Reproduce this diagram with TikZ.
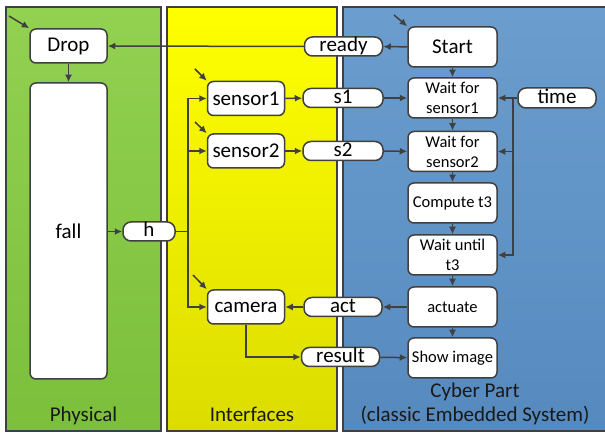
\documentclass[tikz,border=0pt]{standalone}
\usepackage{fontspec}
\setmainfont{Carlito}
\usetikzlibrary{arrows.meta, positioning, calc}
\definecolor{linegray}{HTML}{404040}
\definecolor{physgreen}{HTML}{93D151}
\definecolor{physgreendark}{HTML}{7BBF3B}
\definecolor{ifyellow}{HTML}{FFFF00}
\definecolor{ifyellowdark}{HTML}{DCDC00}
\definecolor{cyberblue}{HTML}{6B9DCE}
\definecolor{cyberbluedark}{HTML}{568ABF}

\begin{document}
\begin{tikzpicture}[x=1pt, y=-1pt,
    panel/.style={draw=linegray, line width=2pt},
    paneltitle/.style={anchor=base, text=black!90, font=\fontsize{21}{23}\selectfont},
    block/.style={draw=linegray, fill=white, line width=1.5pt, rounded corners=6pt,
      minimum width=77pt, minimum height=34pt, inner sep=1pt,
      font=\fontsize{21}{23}\selectfont},
    cyberbox/.style={block, minimum width=89pt, minimum height=40pt, align=center,
      font=\fontsize{16.5}{20}\selectfont},
    datafield/.style={draw=linegray, fill=white, line width=1.5pt, rounded corners=8pt,
      minimum width=78pt, minimum height=19pt, inner xsep=2pt, inner ysep=0pt,
      text height=14pt, text depth=3pt, font=\fontsize{21}{23}\selectfont},
    flow/.style={draw=linegray, line width=1.5pt, -{Latex[length=7.5pt,width=7pt]}},
    wire/.style={draw=linegray, line width=1.5pt}]
  \useasboundingbox (0,0) rectangle (605,435);

  % Hintergrund: drei Bereiche
  \draw[panel, top color=physgreen, bottom color=physgreendark] (6,7) rectangle (161,431);
  \draw[panel, top color=ifyellow, bottom color=ifyellowdark] (167,7) rectangle (337,431);
  \draw[panel, top color=cyberblue, bottom color=cyberbluedark] (343,7) rectangle (610,431);
  \node[paneltitle] (physlabel) at (83.5,421) {Physical};
  \node[paneltitle] (iflabel) at (252,421) {Interfaces};
  \node[paneltitle] (cyberlabel) at (475,398) {Cyber Part};
  \node[paneltitle] (cybersub) at (475,421) {(classic Embedded System)};

  % Physikalischer Teil
  \node[block] (drop) at (68.5,46) {Drop};
  \node[block, minimum height=296pt] (fall) at (68.5,231) {fall};

  % Schnittstellen
  \node[block] (sensor1) at (246,98.5) {sensor1};
  \node[block] (sensor2) at (246,151) {sensor2};
  \node[block] (camera) at (246,307) {camera};
  \node[datafield, minimum width=52pt] (h) at (149,231.5) {h};
  \node[datafield] (ready) at (343.5,46.5) {ready};
  \node[datafield, minimum width=80pt] (s1) at (343,98) {s1};
  \node[datafield, minimum width=80pt] (s2) at (343,151) {s2};
  \node[datafield] (act) at (343,307) {act};
  \node[datafield] (result) at (340.5,357) {result};

  % Cyber-Teil
  \node[cyberbox, font=\fontsize{21}{23}\selectfont] (start) at (452.5,47) {Start};
  \node[cyberbox] (wait1) at (452.5,98) {Wait for\\sensor1};
  \node[cyberbox] (wait2) at (452.5,151.5) {Wait for\\sensor2};
  \node[cyberbox] (compute) at (452.5,203) {Compute t3};
  \node[cyberbox] (waituntil) at (452.5,255) {Wait until\\t3};
  \node[cyberbox] (actuate) at (452.5,307) {actuate};
  \node[cyberbox] (show) at (452.5,358) {Show image};
  \node[datafield, minimum height=20pt] (time) at (557,98) {time};

  % Startpfeile
  \coordinate (dropinit) at (9,16);
  \coordinate (startinit) at (394,15);
  \coordinate (s1init) at (195,69);
  \coordinate (s2init) at (195,122);
  \coordinate (caminit) at (193,275);
  \draw[flow] (dropinit) -- (drop.north west);
  \draw[flow] (startinit) -- (start.north west);
  \draw[flow] (s1init) -- (sensor1.north west);
  \draw[flow] (s2init) -- (sensor2.north west);
  \draw[flow] (caminit) -- (camera.north west);

  % Verbindungen
  \draw[flow] (drop) -- (fall);
  \draw[flow] (start) -- (ready);
  \draw[flow] (ready) -- (drop);
  \draw[flow] (fall.east |- h) -- (h);
  \coordinate (hbus) at (188,231.5);
  \draw[wire] (h) -- (hbus);
  \draw[flow] (hbus) |- (sensor1);
  \draw[flow] (hbus) |- (sensor2);
  \draw[flow] (hbus) |- (camera);
  \draw[flow] (sensor1) -- (s1);
  \draw[flow] (sensor2) -- (s2);
  \draw[flow] (s1) -- (wait1);
  \draw[flow] (s2) -- (wait2);
  \coordinate (timebus) at (513,98);
  \draw[flow] (time) -- (wait1);
  \draw[flow] (timebus) |- (wait2);
  \draw[flow] (timebus) |- (waituntil);
  \draw[flow] (start) -- (wait1);
  \draw[flow] (wait1) -- (wait2);
  \draw[flow] (wait2) -- (compute);
  \draw[flow] (compute) -- (waituntil);
  \draw[flow] (waituntil) -- (actuate);
  \draw[flow] (actuate) -- (show);
  \draw[flow] (actuate) -- (act);
  \draw[flow] (act) -- (camera);
  \draw[flow] (camera) |- (result);
  \draw[flow] (result) -- (show);
\end{tikzpicture}
\end{document}
